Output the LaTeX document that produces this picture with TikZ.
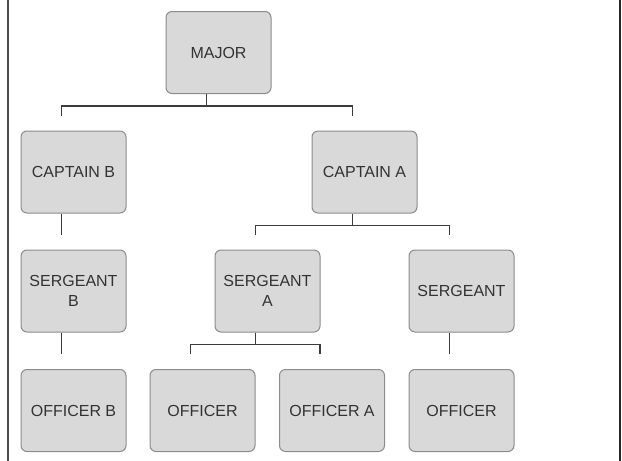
\documentclass[tikz,border=0pt]{standalone}
\usepackage{fontspec}
\setmainfont{Liberation Sans}
\definecolor{boxfill}{HTML}{D9D9D9}
\definecolor{boxline}{HTML}{8C8C8C}
\definecolor{linkcol}{HTML}{3C3C3C}
\definecolor{txtcol}{HTML}{333333}
\tikzset{
  rank/.style={draw=boxline,fill=boxfill,line width=1pt,rounded corners=6pt,
    minimum width=105pt,minimum height=82pt,inner sep=0pt,align=center,
    text=txtcol,font=\fontsize{16}{20}\selectfont},
  link/.style={draw=linkcol,line width=1.4pt}
}
\begin{document}
\begin{tikzpicture}[x=1pt,y=-1pt]
  \useasboundingbox (0,0) rectangle (622,461);
  % side rules
  \draw[line width=2pt,draw=black!70] (7.5,0) -- (7.5,461);
  \draw[line width=2pt,draw=black!85] (620,0) -- (620,461);
  % ranks
  \node[rank] (maj)  at (218.5,52.5) {MAJOR};
  \node[rank] (capb) at (73.5,172)   {CAPTAIN B};
  \node[rank] (capa) at (364.5,172)  {CAPTAIN A};
  \node[rank] (sgtb) at (73.5,291)   {SERGEANT\\B};
  \node[rank] (sgta) at (267.5,291)  {SERGEANT\\A};
  \node[rank] (sgt)  at (461.5,291)  {SERGEANT};
  \node[rank] (offb) at (73.5,410.5) {OFFICER B};
  \node[rank] (offl) at (202.5,410.5) {OFFICER};
  \node[rank] (offa) at (332,410.5)  {OFFICER A};
  \node[rank] (offr) at (461.5,410.5) {OFFICER};
  % brackets
  \foreach \p/\c in {maj/capb,maj/capa,capa/sgta,capa/sgt,sgta/offl,sgta/offa}
    \draw[link] ([xshift=-12pt]\p.south) -- ++(0,12) -| ([xshift=-12pt,yshift=15pt]\c.north);
  % single links
  \foreach \p/\c in {capb/sgtb,sgtb/offb,sgt/offr}
    \draw[link] ([xshift=-12pt]\p.south) -- ([xshift=-12pt,yshift=15pt]\c.north);
\end{tikzpicture}
\end{document}
